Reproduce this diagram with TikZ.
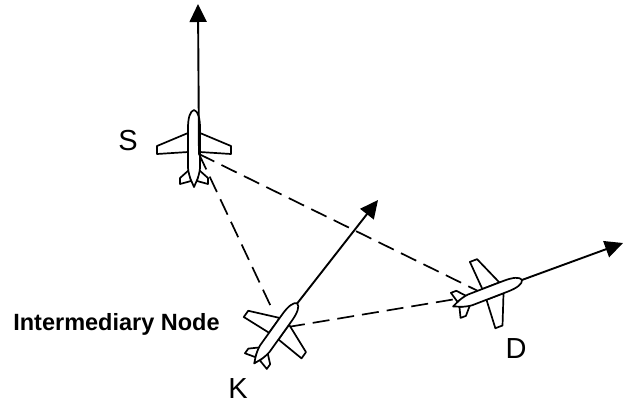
\documentclass[tikz,border=0pt]{standalone}
\usepackage{fontspec}
\setmainfont{Liberation Sans}
\usetikzlibrary{positioning,calc,arrows.meta}
\tikzset{>={Triangle[length=18pt,width=17pt]}}
\tikzset{dashline/.style={line width=1.7pt,dash pattern=on 17pt off 8pt}}
\tikzset{arrowline/.style={->,line width=1.9pt}}
\tikzset{plane/.pic={
    \draw[line width=1.7pt,fill=white,line join=round]
      (-6,-15) -- (-37,-2) -- (-37,6) -- (-6,4) -- cycle
      (6,-15) -- (37,-2) -- (37,6) -- (6,4) -- cycle
      (-5,22) -- (-14,30) -- (-14,36) -- (-3,33) -- cycle
      (5,22) -- (14,30) -- (14,36) -- (3,33) -- cycle;
    \draw[line width=1.7pt,fill=white,line join=round]
      (0,-38) .. controls (-4,-37) and (-6,-30) .. (-6,-20)
      -- (-6,20) .. controls (-5,30) and (-1,36) .. (0,39)
      .. controls (1,36) and (5,30) .. (6,20)
      -- (6,-20) .. controls (6,-30) and (4,-37) .. (0,-38) -- cycle;
    \coordinate (-nose) at (0,-38);
  }}
\tikzset{lbl/.style={inner sep=0pt,font=\fontsize{29}{29}\selectfont}}

\begin{document}
\begin{tikzpicture}[x=1pt,y=-1pt]
  \useasboundingbox (0,0) rectangle (628,405);

  \coordinate (hub) at (199,154);
  \coordinate (kleft) at (273,311);
  \coordinate (kright) at (288,327);
  \coordinate (dleft) at (478,291);
  \coordinate (dback) at (462,298);
  \coordinate (stip) at (198,4);
  \coordinate (ktip) at (378,200);
  \coordinate (dtip) at (623,243);

  \pic (s) at (194,148) {plane};

  \draw[dashline] (hub) -- (kleft);
  \draw[dashline] (hub) -- (dleft);
  \draw[dashline] (kright) -- (dback);
  \draw[arrowline] (hub) -- (stip);

  \pic[rotate=-35.6,scale=.96] (k) at (276,333) {plane};
  \pic[rotate=-69,scale=.96] (d) at (488,293) {plane};

  \draw[arrowline] (k-nose) -- (ktip);
  \draw[arrowline] (d-nose) -- (dtip);

  \node[lbl] (slabel) at (128,141) {S};
  \node[lbl] (klabel) at (238,389) {K};
  \node[lbl] (dlabel) at (516,349) {D};
  \node[inner sep=0pt,font=\fontsize{23.5}{24}\selectfont\bfseries] (interm) at (116.5,324) {Intermediary Node};
\end{tikzpicture}
\end{document}
